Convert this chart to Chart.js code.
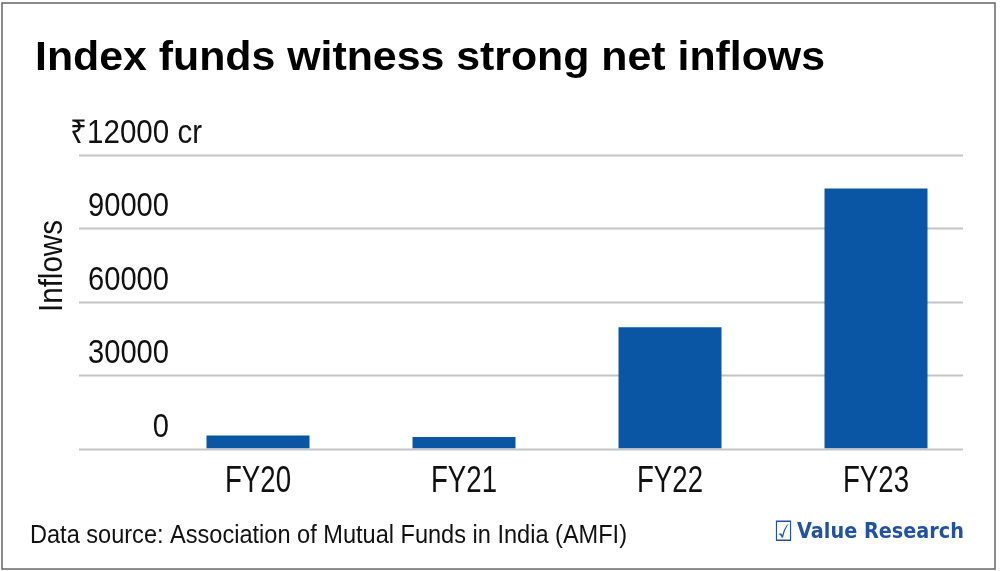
<!DOCTYPE html>
<html>
<head>
<meta charset="utf-8">
<script src="https://cdn.jsdelivr.net/npm/chart.js@4"></script>
<style>
  html, body { margin: 0; padding: 0; background: #fff; }
  #wrap { width: 1000px; height: 571px; position: relative; }
</style>
</head>
<body>
<div id="wrap"><canvas id="chart"></canvas></div>
<script>
// data
const categories = ['FY20', 'FY21', 'FY22', 'FY23'];
const inflows = [5300, 4700, 49600, 106300];
const yTicks = [0, 30000, 60000, 90000, 120000];
const yTickLabels = ['0', '30000', '60000', '90000', '₹12000 cr'];

const FONT = '"Liberation Sans Narrow", "Liberation Sans", Arial, sans-serif';

// draw text squeezed to a given horizontal scale (the original uses a condensed face)
function drawText(ctx, text, x, y, font, color, scale, align) {
    ctx.save();
    ctx.font = font;
    ctx.fillStyle = color;
    const w = ctx.measureText(text).width * scale;
    let left = x;
    if (align === 'right') left = x - w;
    if (align === 'center') left = x - w / 2;
    ctx.translate(left, y);
    ctx.scale(scale, 1);
    ctx.textAlign = 'left';
    ctx.textBaseline = 'alphabetic';
    ctx.fillText(text, 0, 0);
    ctx.restore();
}

function fitScale(ctx, font, text, width) {
    ctx.save();
    ctx.font = font;
    const s = width / ctx.measureText(text).width;
    ctx.restore();
    return s;
}

const decor = {
    id: 'decor',
    beforeDatasetsDraw(chart) {
        const ctx = chart.ctx;
        const y = chart.scales.y;
        ctx.save();
        ctx.strokeStyle = '#c4c4c4';
        ctx.lineWidth = 2;
        yTicks.forEach(v => {
            const py = Math.round(y.getPixelForValue(v)) + 0.5;
            ctx.beginPath();
            ctx.moveTo(79, py);
            ctx.lineTo(963, py);
            ctx.stroke();
        });
        ctx.restore();
    },
    afterDraw(chart) {
        const ctx = chart.ctx;
        const x = chart.scales.x;
        const y = chart.scales.y;

        // title
        const titleFont = 'bold 41px ' + FONT;
        const title = 'Index funds witness strong net inflows';
        drawText(ctx, title, 35, 70, titleFont, '#000', fitScale(ctx, titleFont, title, 790), 'left');

        // y tick labels sit above their grid lines
        const tickFont = '33px ' + FONT;
        const tickScale = fitScale(ctx, tickFont, '90000', 81);
        yTicks.forEach((v, i) => {
            const py = y.getPixelForValue(v) - 12;
            if (i === yTicks.length - 1) {
                drawText(ctx, yTickLabels[i], 70, py, tickFont, '#111', fitScale(ctx, tickFont, yTickLabels[i], 132), 'left');
            } else {
                drawText(ctx, yTickLabels[i], 169, py, tickFont, '#111', tickScale, 'right');
            }
        });

        // y axis title
        const axFont = '34px ' + FONT;
        ctx.save();
        ctx.translate(62, 266);
        ctx.rotate(-Math.PI / 2);
        drawText(ctx, 'Inflows', 0, 0, axFont, '#111', fitScale(ctx, axFont, 'Inflows', 92), 'center');
        ctx.restore();

        // category labels
        const catFont = '36px ' + FONT;
        const catScale = fitScale(ctx, catFont, 'FY22', 66);
        categories.forEach((c, i) => {
            drawText(ctx, c, x.getPixelForValue(i), 492, catFont, '#111', catScale, 'center');
        });

        // footer
        const srcFont = '25px ' + FONT;
        const src = 'Data source: Association of Mutual Funds in India (AMFI)';
        drawText(ctx, src, 30, 543, srcFont, '#111', fitScale(ctx, srcFont, src, 597), 'left');

        const brandColor = '#2352a3';
        const boxFont = '28px "DejaVu Sans", sans-serif';
        drawText(ctx, '☑', 774, 541, boxFont, brandColor, fitScale(ctx, boxFont, '☑', 19), 'left');
        const brandFont = 'bold 22px "DejaVu Sans", "Liberation Sans", sans-serif';
        drawText(ctx, 'Value Research', 797, 538, brandFont, brandColor,
                 fitScale(ctx, brandFont, 'Value Research', 167), 'left');

        // outer frame
        ctx.save();
        ctx.strokeStyle = '#666';
        ctx.lineWidth = 1.5;
        ctx.strokeRect(2, 3, 993, 566);
        ctx.restore();
    }
};

new Chart(document.getElementById('chart'), {
    type: 'bar',
    data: {
        labels: categories,
        datasets: [{
            data: inflows,
            backgroundColor: '#0a56a5',
            borderWidth: 0,
            barPercentage: 0.5,
            categoryPercentage: 1
        }]
    },
    options: {
        responsive: true,
        maintainAspectRatio: false,
        animation: false,
        layout: { padding: { left: 155, right: 21, top: 155, bottom: 122.5 } },
        plugins: { legend: { display: false }, tooltip: { enabled: false } },
        scales: {
            x: { display: false },
            y: { display: false, min: 0, max: 120000 }
        }
    },
    plugins: [decor]
});
</script>
</body>
</html>
